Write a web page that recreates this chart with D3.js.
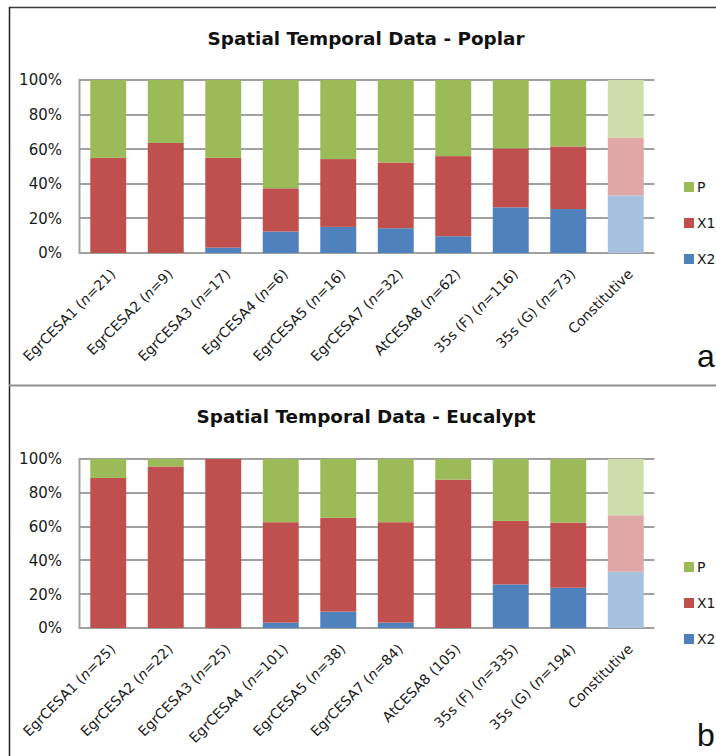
<!DOCTYPE html>
<html>
<head>
<meta charset="utf-8">
<script src="https://cdn.jsdelivr.net/npm/d3@7/dist/d3.min.js"></script>
<style>
  html, body { margin: 0; padding: 0; background: #fff; }
  svg { display: block; }
</style>
</head>
<body>
<svg id="chart" width="716" height="756"></svg>
<script>
// ---------- DATA ----------
const seriesKeys = ["X2", "X1", "P"];
const legendKeys = ["P", "X1", "X2"];
const yTicks = [0, 20, 40, 60, 80, 100];

const poplarTitle = "Spatial Temporal Data - Poplar";
const poplarCategories = ["EgrCESA1 (n=21)", "EgrCESA2 (n=9)", "EgrCESA3 (n=17)", "EgrCESA4 (n=6)", "EgrCESA5 (n=16)", "EgrCESA7 (n=32)", "AtCESA8 (n=62)", "35s (F) (n=116)", "35s (G) (n=73)", "Constitutive"];
const poplarX2 = [0, 0, 3.1, 12.4, 15.1, 14.3, 9.7, 26.4, 25.4, 33.3];
const poplarX1 = [55.0, 63.6, 51.9, 25.0, 39.2, 38.0, 46.3, 34.1, 36.2, 33.4];
const poplarP  = [45.0, 36.4, 45.0, 62.6, 45.7, 47.7, 44.0, 39.5, 38.4, 33.3];

const eucTitle = "Spatial Temporal Data - Eucalypt";
const eucCategories = ["EgrCESA1 (n=25)", "EgrCESA2 (n=22)", "EgrCESA3 (n=25)", "EgrCESA4 (n=101)", "EgrCESA5 (n=38)", "EgrCESA7 (n=84)", "AtCESA8 (105)", "35s (F) (n=335)", "35s (G) (n=194)", "Constitutive"];
const eucX2 = [0, 0, 0, 3.2, 9.7, 3.2, 0, 25.8, 23.8, 33.3];
const eucX1 = [88.8, 95.6, 100, 59.4, 55.5, 59.4, 87.8, 37.6, 38.6, 33.4];
const eucP  = [11.2, 4.4, 0, 37.4, 34.8, 37.4, 12.2, 36.6, 37.6, 33.3];

// ---------- STYLE ----------
const colors = { P: "#9BBB59", X1: "#C0504D", X2: "#4F81BD" };
const lightColors = { P: "#CDDDAC", X1: "#DFA7A6", X2: "#A7C0DE" };
const FONT = "'DejaVu Sans', sans-serif";

const svg = d3.select("#chart");

// Panel frames
svg.append("line").attr("x1", 9).attr("x2", 716).attr("y1", 7.5).attr("y2", 7.5)
  .attr("stroke", "#3a3a3a").attr("stroke-width", 1.5);
svg.append("line").attr("x1", 9.5).attr("x2", 9.5).attr("y1", 7).attr("y2", 756)
  .attr("stroke", "#222").attr("stroke-width", 1.5);
svg.append("line").attr("x1", 9).attr("x2", 716).attr("y1", 385.5).attr("y2", 385.5)
  .attr("stroke", "#8f8f8f").attr("stroke-width", 2);

function drawPanel(cfg) {
  const g = svg.append("g");
  const x = d3.scaleBand().domain(cfg.categories).range([79.5, 654.5])
    .paddingInner(0.375).paddingOuter(0.1875);
  const y = d3.scaleLinear().domain([0, 100]).range([cfg.bottom, cfg.top]);

  // title
  g.append("text").attr("x", 366).attr("y", cfg.titleY)
    .attr("text-anchor", "middle").attr("font-family", FONT)
    .attr("font-weight", "bold").attr("font-size", 18).attr("fill", "#111")
    .attr("textLength", cfg.titleLen).attr("lengthAdjust", "spacingAndGlyphs")
    .text(cfg.title);

  // gridlines
  g.append("g").selectAll("line").data(yTicks).join("line")
    .attr("x1", 79.5).attr("x2", 654.5)
    .attr("y1", d => Math.round(y(d))).attr("y2", d => Math.round(y(d)))
    .attr("stroke", "#a0a0a0").attr("stroke-width", 2);
  // value axis line
  g.append("line").attr("x1", 79.5).attr("x2", 79.5)
    .attr("y1", y(100) - 1).attr("y2", y(0) + 1)
    .attr("stroke", "#a0a0a0").attr("stroke-width", 2);

  // y tick labels via axis
  const yAxis = d3.axisLeft(y).tickValues(yTicks).tickSize(0).tickPadding(0)
    .tickFormat(d => d + "%");
  const ya = g.append("g").attr("transform", "translate(62,0)").call(yAxis);
  ya.select(".domain").remove();
  ya.selectAll("text").attr("font-family", FONT).attr("font-size", 15)
    .attr("fill", "#1a1a1a");

  // stacked bars
  const rows = cfg.categories.map((c, i) => ({ cat: c, X2: cfg.x2[i], X1: cfg.x1[i], P: cfg.p[i] }));
  const stacked = d3.stack().keys(seriesKeys)(rows);
  const last = cfg.categories[cfg.categories.length - 1];
  g.append("g").selectAll("g").data(stacked).join("g")
    .each(function (layer) {
      d3.select(this).selectAll("rect").data(layer).join("rect")
        .attr("x", d => x(d.data.cat))
        .attr("width", x.bandwidth())
        .attr("y", d => y(d[1]))
        .attr("height", d => Math.max(0, y(d[0]) - y(d[1])))
        .attr("fill", d => d.data.cat === last ? lightColors[layer.key] : colors[layer.key]);
    });

  // category labels (rotated)
  const labels = g.append("g").selectAll("text").data(cfg.categories).join("text")
    .attr("transform", d => `translate(${x(d) + x.bandwidth() / 2 + 8},${cfg.bottom + 22}) rotate(-45)`)
    .attr("text-anchor", "end").attr("font-family", FONT).attr("font-size", 14)
    .attr("fill", "#1a1a1a");
  labels.each(function (d) {
    const t = d3.select(this);
    const idx = d.indexOf("(n=");
    if (idx >= 0) {
      t.append("tspan").text(d.slice(0, idx + 1));
      t.append("tspan").attr("font-style", "italic").text("n");
      t.append("tspan").text(d.slice(idx + 2));
    } else {
      t.text(d);
    }
  });

  // legend
  const lg = g.append("g").selectAll("g").data(legendKeys).join("g")
    .attr("transform", (d, i) => `translate(684,${cfg.legendY + i * 36})`);
  lg.append("rect").attr("x", 0).attr("y", -5).attr("width", 10).attr("height", 10)
    .attr("fill", d => colors[d]);
  lg.append("text").attr("x", 13).attr("y", 0).attr("dy", "0.36em")
    .attr("font-family", FONT).attr("font-size", 14).attr("fill", "#1a1a1a")
    .text(d => d);

  // panel letter
  g.append("text").attr("x", 697).attr("y", cfg.letterY)
    .attr("font-family", "'Liberation Sans', Arial, sans-serif").attr("font-size", 32)
    .attr("fill", "#111").text(cfg.letter);
}

drawPanel({
  title: poplarTitle, titleY: 45, titleLen: 317,
  categories: poplarCategories, x2: poplarX2, x1: poplarX1, p: poplarP,
  top: 80, bottom: 253, legendY: 187, letter: "a", letterY: 367
});
drawPanel({
  title: eucTitle, titleY: 423, titleLen: 339,
  categories: eucCategories, x2: eucX2, x1: eucX1, p: eucP,
  top: 459, bottom: 628, legendY: 567, letter: "b", letterY: 746
});
</script>
</body>
</html>
